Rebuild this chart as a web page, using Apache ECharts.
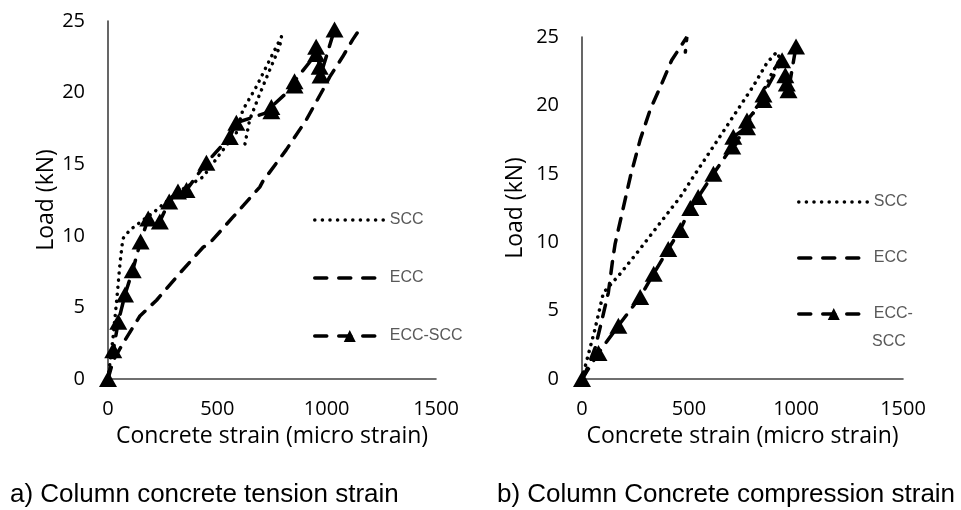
<!DOCTYPE html>
<html>
<head>
<meta charset="utf-8">
<script src="https://cdn.jsdelivr.net/npm/echarts@6/dist/echarts.min.js"></script>
<style>
html,body{margin:0;padding:0;background:#fff;}
#chart{width:961px;height:510px;}
</style>
</head>
<body>
<div id="chart"></div>
<script>
// ---- Data (strain in micro strain, load in kN) ----
var xTicks = [0, 500, 1000, 1500];
var yTicks = [0, 5, 10, 15, 20, 25];
var seriesNames = ['SCC', 'ECC', 'ECC-SCC'];

// a) Column concrete tension strain
var tensionSCC = [[0,0],[23,2.9],[41,5.7],[55,8.1],[68,9.8],[100,10.4],[160,11.1],[206,11.6],[313,13.0],[434,14.1],[526,16.0],[587,17.2],[617,18.8],[678,20.4],[740,22.3],[793,23.9],[785,23.2],[740,21.6],[694,19.9],[648,18.1],[625,16.3]];
var tensionECC = [[0,0],[24,1.3],[69,2.5],[146,4.4],[222,5.5],[329,7.4],[435,9.2],[466,9.5],[571,11.3],[694,13.4],[708,13.8],[815,16.0],[907,18.1],[983,20.2],[1014,21.1],[1073,22.5],[1119,23.7],[1150,24.4]];
var tensionECCSCC = [[0,0],[24,2.0],[47,4.0],[78,5.9],[113,7.6],[149,9.6],[184,11.2],[237,11.0],[280,12.4],[320,13.1],[359,13.2],[450,15.1],[557,16.9],[587,17.9],[747,18.7],[747,19.0],[853,20.5],[853,20.8],[952,22.7],[952,23.2],[968,21.8],[972,21.2],[1036,24.4]];

// b) Column concrete compression strain
var compSCC = [[0,0],[23,1.4],[60,3.6],[100,6.3],[179,7.7],[256,9.2],[350,11.1],[459,13.3],[521,14.8],[614,17.0],[707,19.2],[800,21.4],[864,23.1],[910,23.9],[926,23.4],[879,22.1],[817,19.9],[739,17.8],[693,16.3]];
var compECC = [[0,0],[15,0.4],[62,2.3],[93,4.3],[123,6.3],[145,8.9],[155,9.9],[187,12.1],[226,14.8],[272,17.5],[319,19.7],[373,21.6],[419,23.3],[490,25.0],[483,23.9]];
var compECCSCC = [[0,0],[77,1.9],[170,3.9],[272,6.0],[335,7.7],[403,9.5],[459,10.9],[506,12.5],[543,13.3],[614,15.0],[702,17.0],[707,17.7],[771,18.4],[771,18.9],[848,20.4],[848,20.8],[935,23.3],[950,22.2],[957,21.6],[965,21.1],[1000,24.3]];

var xAxisTitle = 'Concrete strain (micro strain)';
var yAxisTitle = 'Load (kN)';
var captionA = 'a) Column concrete tension strain';
var captionB = 'b) Column Concrete compression strain';

// ---- Styles ----
var tickFont = {fontFamily: 'Open Sans', fontSize: 20, color: '#000'};
var axisLineStyle = {color: '#404040', width: 1.6};
var dotStyle = {color: '#000', width: 3.5, type: [0.1, 7], cap: 'round'};
var dashStyle = {color: '#000', width: 3.5, type: [12, 10], cap: 'round'};

function mkX(idx, gap) {
  return {
    type: 'value', gridIndex: idx, min: xTicks[0], max: xTicks[xTicks.length-1], interval: xTicks[1]-xTicks[0],
    axisLine: {show: true, onZero: false, lineStyle: axisLineStyle},
    axisTick: {show: false}, splitLine: {show: false},
    axisLabel: Object.assign({margin: 20, formatter: function (v) { return String(v); }}, tickFont),
    name: xAxisTitle, nameLocation: 'middle', nameGap: gap,
    nameTextStyle: {fontFamily: 'Open Sans', fontSize: 23, color: '#000'}
  };
}
function mkY(idx, gap) {
  return {
    type: 'value', gridIndex: idx, min: yTicks[0], max: yTicks[yTicks.length-1], interval: yTicks[1]-yTicks[0],
    axisLine: {show: true, onZero: false, lineStyle: axisLineStyle},
    axisTick: {show: false}, splitLine: {show: false},
    axisLabel: Object.assign({margin: 23, formatter: function (v) { return String(v); }}, tickFont),
    name: yAxisTitle, nameLocation: 'middle', nameGap: gap, nameRotate: 90,
    nameTextStyle: {fontFamily: 'Open Sans', fontSize: 23, color: '#000'}
  };
}
function lineSeries(name, idx, data, style, withSymbol) {
  return {
    name: name, type: 'line', xAxisIndex: idx, yAxisIndex: idx, data: data,
    lineStyle: style, itemStyle: {color: '#000'},
    symbol: withSymbol ? 'triangle' : 'none', symbolSize: [18, 16],
    showSymbol: withSymbol, animation: false, silent: true, z: withSymbol ? 3 : 2
  };
}

var legendText = {fontFamily: 'Liberation Sans Narrow, Liberation Sans', fontSize: 16, color: '#595959', lineHeight: 20};
var legendData = [
  {name: 'SCC', itemStyle: {opacity: 0}, lineStyle: {width: 3.5, type: [0.1, 7.5], cap: 'round', color: '#000'}},
  {name: 'ECC', itemStyle: {opacity: 0}, lineStyle: {width: 3.5, type: [12, 12], cap: 'round', color: '#000'}},
  {name: 'ECC-SCC', lineStyle: {width: 3.5, type: [12, 12], cap: 'round', color: '#000'}}
];

var chart = echarts.init(document.getElementById('chart'), null, {renderer: 'canvas'});
chart.setOption({
  backgroundColor: '#fff',
  animation: false,
  grid: [
    {left: 108, top: 21, width: 328, height: 358, containLabel: false},
    {left: 582, top: 37, width: 321, height: 342, containLabel: false}
  ],
  xAxis: [mkX(0, 46), mkX(1, 46)],
  yAxis: [mkY(0, 50), mkY(1, 55)],
  legend: [
    {orient: 'vertical', left: 313, top: 210, padding: 0, itemWidth: 70, itemHeight: 15, itemGap: 38,
     data: legendData, textStyle: legendText, selectedMode: false},
    {orient: 'vertical', left: 797, top: 192, padding: 0, itemWidth: 70, itemHeight: 15, itemGap: 36,
     data: legendData, textStyle: legendText, selectedMode: false,
     formatter: function (n) { return n === 'ECC-SCC' ? 'ECC-' : n; }}
  ],
  graphic: [
    {type: 'text', left: 872, top: 334, style: {text: 'SCC', font: '16px "Liberation Sans Narrow", "Liberation Sans"', fill: '#595959'}},
    {type: 'text', left: 10, top: 482, style: {text: captionA, font: '26px "Liberation Sans"', fill: '#000'}},
    {type: 'text', left: 497, top: 482, style: {text: captionB, font: '26px "Liberation Sans"', fill: '#000'}}
  ],
  series: [
    lineSeries('SCC', 0, tensionSCC, dotStyle, false),
    lineSeries('ECC', 0, tensionECC, dashStyle, false),
    lineSeries('ECC-SCC', 0, tensionECCSCC, dashStyle, true),
    lineSeries('SCC', 1, compSCC, dotStyle, false),
    lineSeries('ECC', 1, compECC, dashStyle, false),
    lineSeries('ECC-SCC', 1, compECCSCC, dashStyle, true)
  ]
});
</script>
</body>
</html>
